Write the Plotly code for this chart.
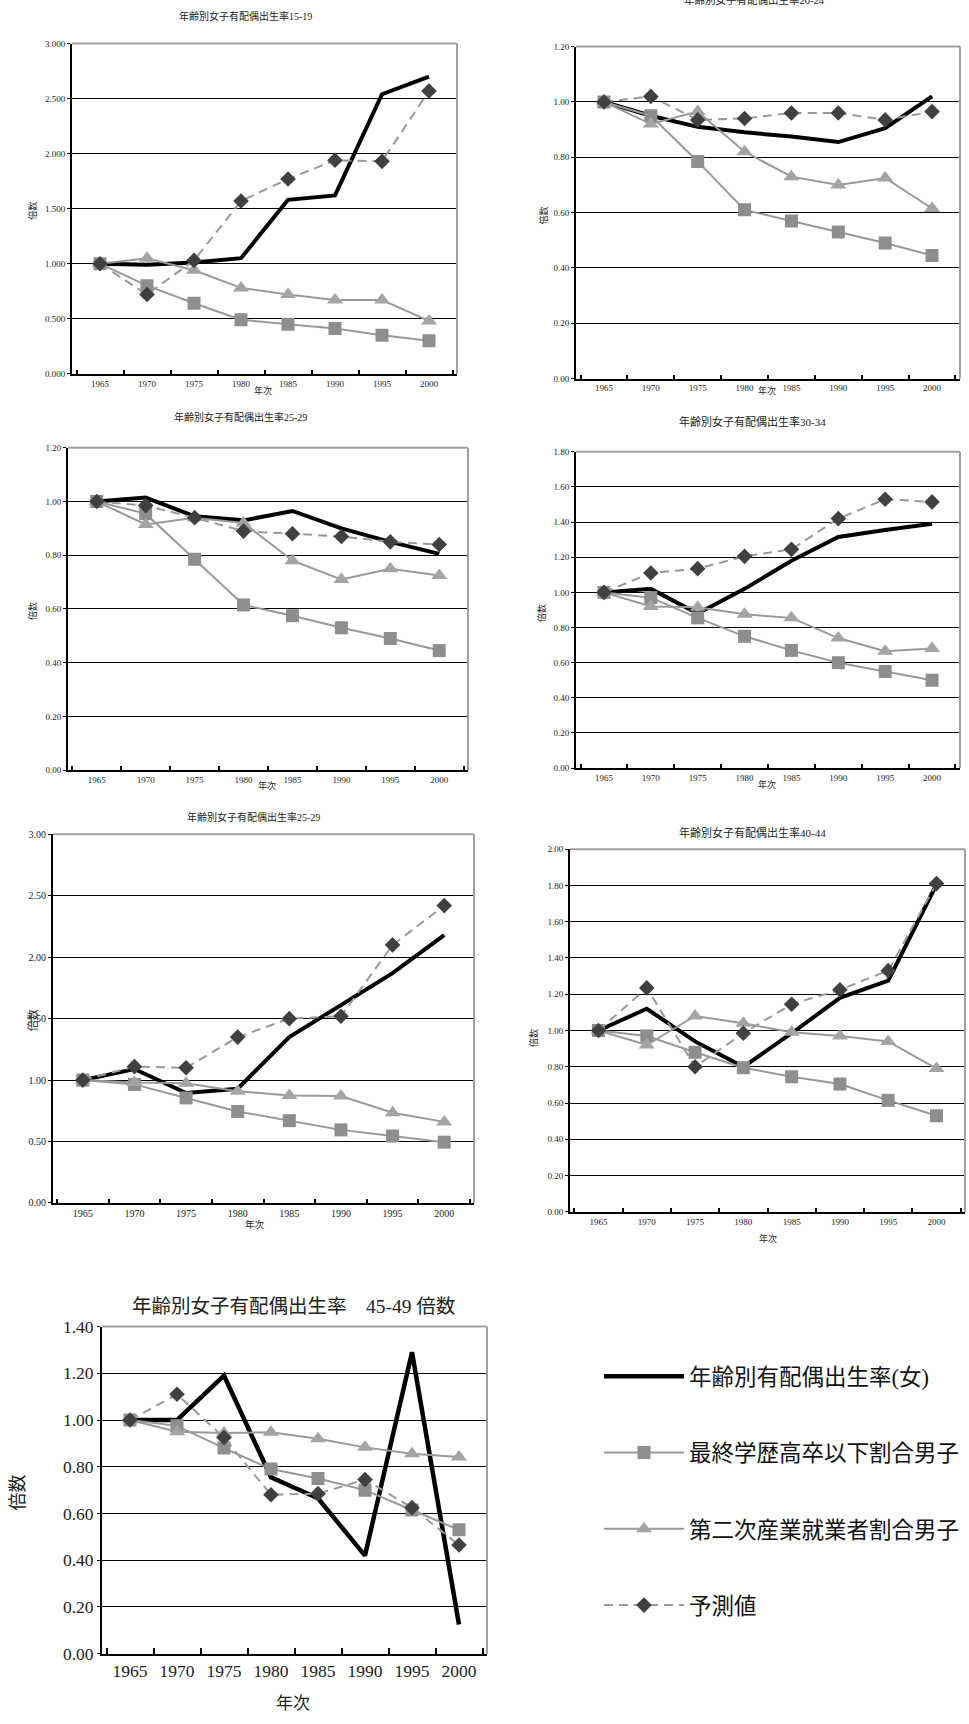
import plotly.graph_objects as go

# ---- data -------------------------------------------------------------
years = ["1965", "1970", "1975", "1980", "1985", "1990", "1995", "2000"]

series_names = [
    "年齢別有配偶出生率(女)",
    "最終学歴高卒以下割合男子",
    "第二次産業就業者割合男子",
    "予測値",
]

# 15-19
rate_15_19 = [1.00, 0.99, 1.01, 1.05, 1.58, 1.62, 2.54, 2.70]
edu_15_19 = [1.00, 0.80, 0.64, 0.49, 0.45, 0.41, 0.35, 0.30]
ind_15_19 = [1.00, 1.05, 0.94, 0.78, 0.72, 0.67, 0.67, 0.48]
pred_15_19 = [1.00, 0.72, 1.03, 1.57, 1.77, 1.94, 1.93, 2.57]

# 20-24
rate_20_24 = [1.00, 0.95, 0.91, 0.89, 0.875, 0.855, 0.905, 1.02]
edu_20_24 = [1.00, 0.95, 0.785, 0.61, 0.57, 0.53, 0.49, 0.445]
ind_20_24 = [1.00, 0.92, 0.965, 0.82, 0.73, 0.70, 0.725, 0.615]
pred_20_24 = [1.00, 1.02, 0.935, 0.94, 0.96, 0.96, 0.935, 0.965]

# 25-29
rate_25_29 = [1.00, 1.015, 0.945, 0.93, 0.965, 0.90, 0.85, 0.805]
edu_25_29 = [1.00, 0.955, 0.785, 0.615, 0.575, 0.53, 0.49, 0.445]
ind_25_29 = [1.00, 0.915, 0.94, 0.92, 0.78, 0.71, 0.75, 0.725]
pred_25_29 = [1.00, 0.985, 0.94, 0.89, 0.88, 0.87, 0.85, 0.84]

# 30-34
rate_30_34 = [1.00, 1.02, 0.88, 1.02, 1.18, 1.315, 1.355, 1.39]
edu_30_34 = [1.00, 0.97, 0.855, 0.75, 0.67, 0.60, 0.55, 0.50]
ind_30_34 = [1.00, 0.92, 0.915, 0.875, 0.855, 0.74, 0.665, 0.68]
pred_30_34 = [1.00, 1.11, 1.135, 1.205, 1.245, 1.42, 1.53, 1.515]

# 35-39 (panel titled 25-29)
rate_35_39 = [1.00, 1.09, 0.895, 0.93, 1.35, 1.61, 1.87, 2.18]
edu_35_39 = [1.00, 0.965, 0.855, 0.745, 0.67, 0.595, 0.545, 0.495]
ind_35_39 = [1.00, 0.98, 0.975, 0.91, 0.875, 0.87, 0.735, 0.66]
pred_35_39 = [1.00, 1.11, 1.10, 1.35, 1.50, 1.52, 2.10, 2.42]

# 40-44
rate_40_44 = [1.00, 1.12, 0.94, 0.80, 0.985, 1.18, 1.275, 1.805]
edu_40_44 = [1.00, 0.97, 0.88, 0.795, 0.745, 0.705, 0.615, 0.53]
ind_40_44 = [1.00, 0.92, 1.08, 1.04, 0.99, 0.97, 0.94, 0.79]
pred_40_44 = [1.00, 1.235, 0.80, 0.985, 1.145, 1.225, 1.33, 1.81]

# 45-49
rate_45_49 = [1.00, 1.00, 1.19, 0.755, 0.665, 0.42, 1.29, 0.125]
edu_45_49 = [1.00, 0.975, 0.88, 0.79, 0.75, 0.70, 0.615, 0.53]
ind_45_49 = [1.00, 0.95, 0.945, 0.948, 0.92, 0.883, 0.856, 0.842]
pred_45_49 = [1.00, 1.11, 0.925, 0.68, 0.685, 0.745, 0.625, 0.465]

panel_titles = [
    "年齢別女子有配偶出生率15-19",
    "年齢別女子有配偶出生率20-24",
    "年齢別女子有配偶出生率25-29",
    "年齢別女子有配偶出生率30-34",
    "年齢別女子有配偶出生率25-29",
    "年齢別女子有配偶出生率40-44",
    "年齢別女子有配偶出生率　45-49 倍数",
]

panel_data = [
    (rate_15_19, edu_15_19, ind_15_19, pred_15_19),
    (rate_20_24, edu_20_24, ind_20_24, pred_20_24),
    (rate_25_29, edu_25_29, ind_25_29, pred_25_29),
    (rate_30_34, edu_30_34, ind_30_34, pred_30_34),
    (rate_35_39, edu_35_39, ind_35_39, pred_35_39),
    (rate_40_44, edu_40_44, ind_40_44, pred_40_44),
    (rate_45_49, edu_45_49, ind_45_49, pred_45_49),
]

# ---- layout geometry (pixels) ------------------------------------------
W, H = 969, 1724
FONT = "'Liberation Serif', 'DejaVu Serif', 'Noto Sans CJK JP', serif"


def fx(px):
    return px / W


def fy(py):
    return 1 - py / H


# plot box: (left, top, right, bottom), y max, y step, tick format,
# title (x, y, size), x-title (x, y, size), y-title (x, y, size), tick font size
panels = [
    dict(box=(72, 34, 457, 368), ymax=3.0, dtick=0.5, fmt=".3f",
         title=(245, 6, 10), xt=(263, 385, 9), yt=(33, 203, 9), tick=9),
    dict(box=(576, 37, 960, 373), ymax=1.2, dtick=0.2, fmt=".2f",
         title=(754, -10, 10.5), xt=(767, 385, 9), yt=(544, 208, 9), tick=9),
    dict(box=(68, 443, 468, 769), ymax=1.2, dtick=0.2, fmt=".2f",
         title=(240, 412, 10), xt=(267, 785, 9), yt=(33, 608, 9), tick=9),
    dict(box=(576, 447, 960, 767), ymax=1.8, dtick=0.2, fmt=".2f",
         title=(752, 416, 11), xt=(767, 784, 9), yt=(542, 610, 9), tick=9),
    dict(box=(53, 834, 474, 1207), ymax=3.0, dtick=0.5, fmt=".2f",
         title=(253, 816, 10), xt=(255, 1229, 9.5), yt=(33, 1022, 11), tick=10),
    dict(box=(570, 849, 965, 1216), ymax=2.0, dtick=0.2, fmt=".2f",
         title=(752, 832, 11), xt=(768, 1243, 9), yt=(534, 1040, 9), tick=9),
    dict(box=(102, 1332, 487, 1663), ymax=1.4, dtick=0.2, fmt=".2f",
         title=(293, 1312, 19.5), xt=(293, 1713, 17), yt=(18, 1500, 18), tick=17.5),
]

BLACK = "#000000"
SQ_COLOR = "#8e8e8e"
TRI_COLOR = "#a4a4a4"
DIA_COLOR = "#404040"
LINE_GRAY = "#999999"

fig = go.Figure()
annotations = []
shapes = []

for i, (p, data, title) in enumerate(zip(panels, panel_data, panel_titles)):
    n = i + 1
    xa = "x" if n == 1 else f"x{n}"
    ya = "y" if n == 1 else f"y{n}"
    rate, edu, ind, pred = data
    show = n == 7
    big = n == 7

    fig.add_trace(go.Scatter(
        x=years, y=rate, xaxis=xa, yaxis=ya, mode="lines",
        name=series_names[0], legendgroup="a", showlegend=show,
        line=dict(color=BLACK, width=4.5 if big else 4),
    ))
    fig.add_trace(go.Scatter(
        x=years, y=edu, xaxis=xa, yaxis=ya, mode="lines+markers",
        name=series_names[1], legendgroup="b", showlegend=show,
        line=dict(color=LINE_GRAY, width=2),
        marker=dict(symbol="square", size=13, color=SQ_COLOR),
    ))
    fig.add_trace(go.Scatter(
        x=years, y=ind, xaxis=xa, yaxis=ya, mode="lines+markers",
        name=series_names[2], legendgroup="c", showlegend=show,
        line=dict(color=LINE_GRAY, width=2),
        marker=dict(symbol="triangle-up", size=14, color=TRI_COLOR),
    ))
    fig.add_trace(go.Scatter(
        x=years, y=pred, xaxis=xa, yaxis=ya, mode="lines+markers",
        name=series_names[3], legendgroup="d", showlegend=show,
        line=dict(color=LINE_GRAY, width=2, dash="9px,6px"),
        marker=dict(symbol="diamond", size=12, color=DIA_COLOR),
    ))

    l, t, r, b = p["box"]
    xkey = "xaxis" if n == 1 else f"xaxis{n}"
    ykey = "yaxis" if n == 1 else f"yaxis{n}"
    tick_font = dict(family=FONT, size=p["tick"], color="#222222")
    fig.update_layout({
        xkey: dict(
            domain=[fx(l), fx(r)], anchor=ya, type="category",
            tickson="boundaries", ticks="inside", ticklen=4 if not big else 6,
            tickcolor=BLACK, tickwidth=1.5,
            showline=True, linecolor=BLACK, linewidth=2,
            showgrid=False, tickfont=tick_font, fixedrange=True,
        ),
        ykey: dict(
            domain=[fy(b), fy(t)], anchor=xa, range=[0, p["ymax"]],
            dtick=p["dtick"], tick0=0, tickformat=p["fmt"],
            ticks="outside", ticklen=3, tickcolor=BLACK,
            showline=True, linecolor=BLACK, linewidth=2,
            showgrid=True, gridcolor=BLACK, gridwidth=1,
            zeroline=False, tickfont=tick_font, fixedrange=True,
        ),
    })

    # grey frame on the top and right edges of each plot area
    shapes.append(dict(type="line", xref="paper", yref="paper",
                       x0=fx(l), x1=fx(r), y0=fy(t), y1=fy(t),
                       line=dict(color="#a0a0a0", width=2), layer="above"))
    shapes.append(dict(type="line", xref="paper", yref="paper",
                       x0=fx(r), x1=fx(r), y0=fy(t), y1=fy(b),
                       line=dict(color="#a0a0a0", width=2), layer="above"))

    tx, ty, ts = p["title"]
    annotations.append(dict(text=title, x=fx(tx), y=fy(ty), xref="paper",
                            yref="paper", showarrow=False, xanchor="center",
                            yanchor="middle",
                            font=dict(family=FONT, size=ts, color="#222222")))
    ax_, ay_, as_ = p["xt"]
    annotations.append(dict(text="年次", x=fx(ax_), y=fy(ay_), xref="paper",
                            yref="paper", showarrow=False, xanchor="center",
                            yanchor="middle",
                            font=dict(family=FONT, size=as_, color="#222222")))
    bx, by, bs = p["yt"]
    annotations.append(dict(text="倍数", x=fx(bx), y=fy(by), xref="paper",
                            yref="paper", showarrow=False, xanchor="center",
                            yanchor="middle", textangle=-90,
                            font=dict(family=FONT, size=bs, color="#222222")))

fig.update_layout(
    width=W, height=H,
    margin=dict(l=0, r=0, t=0, b=0),
    paper_bgcolor="white", plot_bgcolor="white",
    annotations=annotations, shapes=shapes,
    showlegend=True,
    legend=dict(
        x=fx(599), y=fy(1361), xanchor="left", yanchor="top",
        font=dict(family=FONT, size=22.5, color="#111111"),
        itemwidth=80, traceorder="grouped", tracegroupgap=44,
        bgcolor="rgba(0,0,0,0)", itemclick=False, itemdoubleclick=False,
    ),
)

fig.write_html("out.html")
